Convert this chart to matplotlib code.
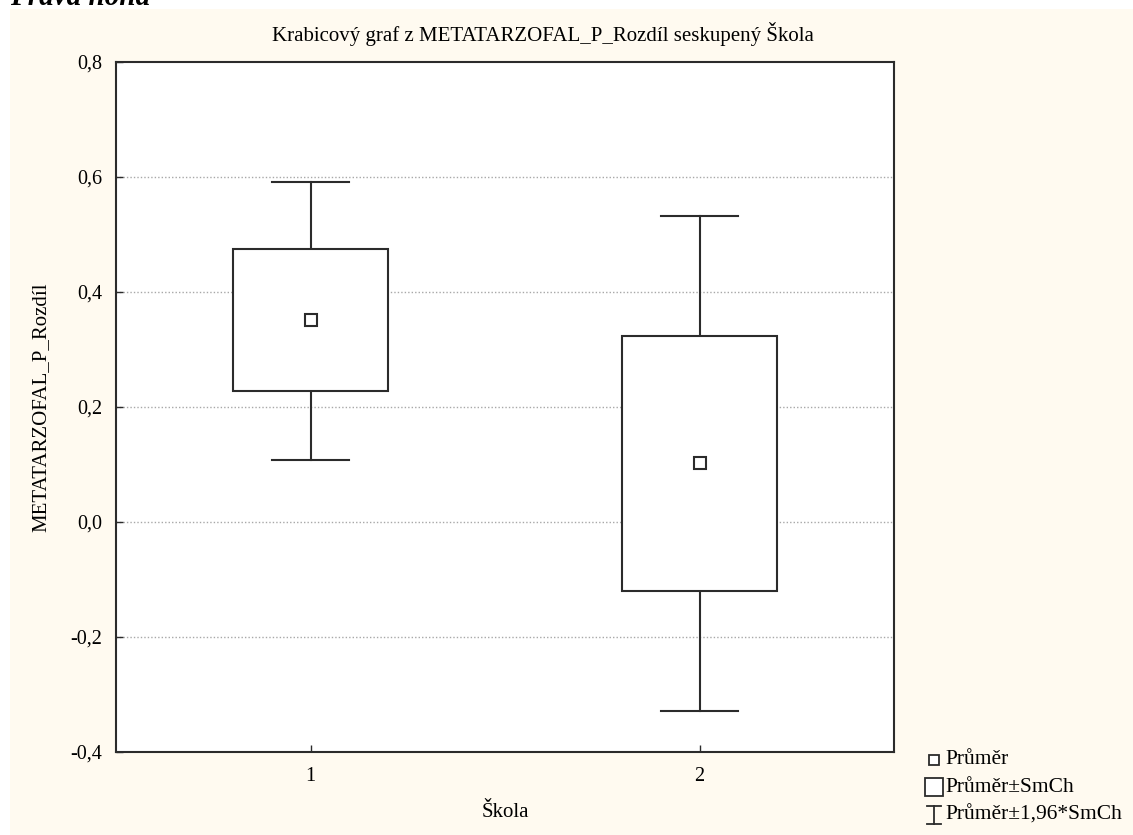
import matplotlib.pyplot as plt
from matplotlib.lines import Line2D
from matplotlib.patches import Rectangle
from matplotlib.ticker import FuncFormatter

# hodnoty
skola = [1, 2]
skola_labels = ["1", "2"]
prumer = [0.351, 0.103]
smch_low = [0.227, -0.120]
smch_high = [0.475, 0.323]
ci_low = [0.107, -0.328]
ci_high = [0.592, 0.533]
yticks = [-0.4, -0.2, 0.0, 0.2, 0.4, 0.6, 0.8]

plt.rcParams['font.family'] = ['Liberation Serif', 'DejaVu Serif']
edge = '#2b2b2b'
W, H = 1133, 835


def fx(px):
    return px / W


def fy(py):
    return 1 - py / H


fig = plt.figure(figsize=(W / 100, H / 100), dpi=100)
fig.patch.set_facecolor('white')
# krémové pozadí jako ve Statistice
fig.patches.append(Rectangle((fx(10), 0), 1, fy(9), transform=fig.transFigure,
                             facecolor='#fffaf0', edgecolor='none', zorder=-10))
fig.text(fx(10), fy(5), "Pravá noha", fontsize=21, style='italic', fontweight='bold',
         ha='left', va='baseline')

ax = fig.add_axes([fx(116), fy(752), (894 - 116) / W, (752 - 62) / H])
ax.set_facecolor('white')

box_w = 0.4
cap_w = 0.2
for x, m, lo, hi, wlo, whi in zip(skola, prumer, smch_low, smch_high, ci_low, ci_high):
    ax.plot([x, x], [hi, whi], color=edge, lw=1.5, zorder=3)
    ax.plot([x, x], [wlo, lo], color=edge, lw=1.5, zorder=3)
    ax.plot([x - cap_w / 2, x + cap_w / 2], [whi, whi], color=edge, lw=1.5, zorder=3)
    ax.plot([x - cap_w / 2, x + cap_w / 2], [wlo, wlo], color=edge, lw=1.5, zorder=3)
    ax.add_patch(Rectangle((x - box_w / 2, lo), box_w, hi - lo, facecolor='white',
                           edgecolor=edge, lw=1.5, zorder=4))
    ax.plot(x, m, marker='s', ms=8, mfc='white', mec=edge, mew=1.5, zorder=5)

ax.set_xlim(0.5, 2.5)
ax.set_ylim(-0.4, 0.8)
ax.set_xticks(skola)
ax.set_xticklabels(skola_labels)
ax.set_yticks(yticks)
ax.yaxis.set_major_formatter(FuncFormatter(lambda v, p: f"{v:.1f}".replace('.', ',').replace('-0,0', '0,0')))
ax.tick_params(direction='in', length=5, width=1, color=edge, labelsize=14.5, pad=11)
ax.tick_params(axis='y', pad=10)
for s in ax.spines.values():
    s.set_color(edge)
    s.set_linewidth(1.5)
for v in yticks[1:-1]:
    ax.axhline(v, color='#a8a8a8', lw=1, ls=(0, (1, 1.5)), zorder=1)

ax.set_xlabel("Škola", fontsize=15, labelpad=12)
ax.set_ylabel("METATARZOFAL_P_Rozdíl", fontsize=15, labelpad=14)
fig.text(fx(272), fy(34), "Krabicový graf z METATARZOFAL_P_Rozdíl seskupený Škola",
         fontsize=15, ha='left', va='center')

# legenda vpravo dole
fig.add_artist(Line2D([fx(934)], [fy(760)], marker='s', ms=7, mfc='white', mec=edge, mew=1.3,
                      transform=fig.transFigure))
fig.add_artist(Rectangle((fx(925), fy(796)), 18 / W, 18 / H, facecolor='white',
                         edgecolor=edge, lw=1.3, transform=fig.transFigure))
fig.add_artist(Line2D([fx(934), fx(934)], [fy(806), fy(824)], color=edge, lw=1.3,
                      transform=fig.transFigure))
fig.add_artist(Line2D([fx(927), fx(941)], [fy(824), fy(824)], color=edge, lw=1.3,
                      transform=fig.transFigure))
fig.add_artist(Line2D([fx(927), fx(941)], [fy(806), fy(806)], color=edge, lw=1.3,
                      transform=fig.transFigure))
for txt, py in [("Průměr", 760), ("Průměr±SmCh", 787), ("Průměr±1,96*SmCh", 815)]:
    fig.text(fx(945), fy(py), txt, fontsize=15.5, ha='left', va='center')

fig.savefig('out.png', dpi=100)
